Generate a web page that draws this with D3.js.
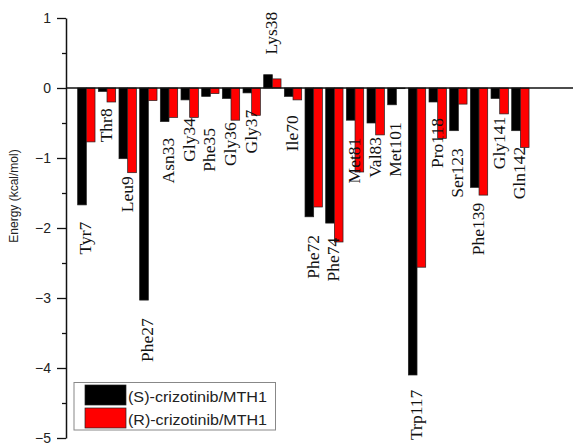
<!DOCTYPE html>
<html>
<head>
<meta charset="utf-8">
<script src="https://cdn.jsdelivr.net/npm/d3@7"></script>
<style>
  body { margin: 0; background: #fff; }
  svg { display: block; }
</style>
</head>
<body>
<div id="chart"></div>
<script>
// residues on the x axis
const residues = ["Tyr7", "Thr8", "Leu9", "Phe27", "Asn33", "Gly34", "Phe35", "Gly36", "Gly37", "Lys38", "Ile70",
                  "Phe72", "Phe74", "Met81", "Val83", "Met101", "Trp117", "Pro118", "Ser123", "Phe139", "Gly141", "Gln142"];
// energy contributions (kcal/mol)
const sValues = [-1.67, -0.05, -1.01, -3.03, -0.48, -0.17, -0.12, -0.15, -0.07, 0.19, -0.12,
                 -1.84, -1.93, -0.46, -0.50, -0.24, -4.10, -0.20, -0.61, -1.42, -0.15, -0.61];
const rValues = [-0.77, -0.20, -1.21, -0.18, -0.42, -0.42, -0.08, -0.46, -0.39, 0.13, -0.17,
                 -1.70, -2.20, -1.20, -0.67, -0.01, -2.56, -0.72, -0.23, -1.53, -0.37, -0.85];
// where each residue name ends (top of the rotated label), kcal/mol
const labelTop = [-1.91, -0.29, -1.26, -3.29, -0.71, -0.43, -0.57, -0.49, -0.31, 1.09, -0.39,
                  -2.10, -2.14, -0.71, -0.70, -0.49, -4.31, -0.43, -0.86, -1.64, -0.41, -0.84];
const seriesNames = ["(S)-crizotinib/MTH1", "(R)-crizotinib/MTH1"];
const seriesColors = ["#000000", "#ff0000"];
const majorTicks = [1, 0, -1, -2, -3, -4, -5];
const minorTicks = [0.5, -0.5, -1.5, -2.5, -3.5, -4.5];

const W = 573, H = 445;
const axisX = 66;

const svg = d3.select("#chart").append("svg")
  .attr("width", W)
  .attr("height", H);

const y = d3.scaleLinear().domain([-5, 1]).range([438, 18]);

const x = d3.scaleBand()
  .domain(residues)
  .range([76, 530.7])
  .paddingInner(0.16)
  .paddingOuter(0.08);

const sub = d3.scaleBand()
  .domain([0, 1])
  .range([0, x.bandwidth()]);

const rows = residues.map((r, i) => ({ name: r, vals: [sValues[i], rValues[i]], top: labelTop[i] }));

// bars
const groups = svg.append("g").selectAll("g")
  .data(rows)
  .enter().append("g")
    .attr("transform", d => `translate(${x(d.name)},0)`);

groups.selectAll("rect")
  .data(d => d.vals.map((v, k) => ({ v, k })))
  .enter().append("rect")
    .attr("x", d => sub(d.k))
    .attr("y", d => Math.min(y(d.v), y(0)))
    .attr("width", sub.bandwidth())
    .attr("height", d => Math.abs(y(d.v) - y(0)))
    .attr("fill", d => seriesColors[d.k])
    .attr("stroke", "#222")
    .attr("stroke-width", 0.7);

// zero line
svg.append("line")
  .attr("x1", axisX).attr("x2", W)
  .attr("y1", y(0)).attr("y2", y(0))
  .attr("stroke", "#111")
  .attr("stroke-width", 1.5);

// residue labels
svg.append("g").selectAll("text")
  .data(rows)
  .enter().append("text")
    .attr("transform", d => `translate(${x(d.name) + x.bandwidth() / 2 - 1},${y(d.top)}) rotate(-90)`)
    .attr("text-anchor", "end")
    .attr("dy", "0.35em")
    .style("font-family", "'Liberation Serif', 'Times New Roman', serif")
    .style("font-size", "17.5px")
    .attr("fill", "#111")
    .text(d => d.name);

// y axis
const yAxis = svg.append("g")
  .attr("transform", `translate(${axisX},0)`)
  .call(d3.axisLeft(y).tickValues(majorTicks).tickSize(9).tickPadding(6).tickSizeOuter(0)
    .tickFormat(d3.format("d")));

yAxis.select(".domain").attr("stroke", "#111").attr("stroke-width", 1.5);
yAxis.selectAll(".tick line").attr("stroke", "#111").attr("stroke-width", 1.3);
yAxis.selectAll(".tick text")
  .style("font-family", "'Liberation Sans', Arial, sans-serif")
  .style("font-size", "14px")
  .attr("fill", "#222");

svg.append("g")
  .attr("transform", `translate(${axisX},0)`)
  .call(d3.axisLeft(y).tickValues(minorTicks).tickSize(4).tickFormat(""))
  .call(g => g.select(".domain").remove())
  .selectAll(".tick line").attr("stroke", "#111").attr("stroke-width", 1.3);

svg.append("text")
  .attr("transform", `translate(18,${196}) rotate(-90)`)
  .attr("text-anchor", "middle")
  .style("font-family", "'Liberation Sans', Arial, sans-serif")
  .style("font-size", "12px")
  .attr("fill", "#222")
  .text("Energy (kcal/mol)");

// legend
const legend = svg.append("g");
legend.append("rect")
  .attr("x", 74).attr("y", 382.5)
  .attr("width", 201.5).attr("height", 47.5)
  .attr("fill", "#fff")
  .attr("stroke", "#888")
  .attr("stroke-width", 1);

const items = legend.selectAll("g")
  .data(seriesNames)
  .enter().append("g")
    .attr("transform", (d, i) => `translate(85,${385 + i * 23})`);

items.append("rect")
  .attr("width", 41).attr("height", 20)
  .attr("fill", (d, i) => seriesColors[i])
  .attr("stroke", "#222")
  .attr("stroke-width", 0.7);

items.append("text")
  .attr("x", 43).attr("y", 16.5)
  .attr("textLength", 139)
  .attr("lengthAdjust", "spacingAndGlyphs")
  .style("font-family", "'Liberation Sans', Arial, sans-serif")
  .style("font-size", "14.5px")
  .attr("fill", "#222")
  .text(d => d);
</script>
</body>
</html>
